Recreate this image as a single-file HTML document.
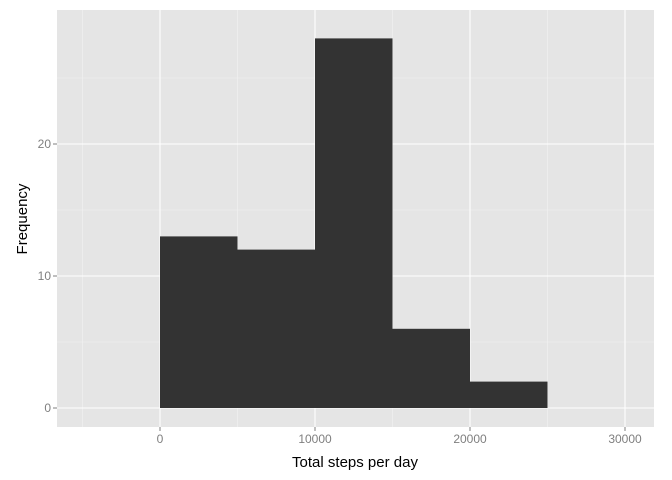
<!DOCTYPE html>
<html><head><meta charset="utf-8"><style>
html,body{margin:0;padding:0;background:#fff;}
svg{display:block;font-family:"Liberation Sans",sans-serif;}
</style></head><body>
<svg id="chart" width="672" height="480">
<rect x="0" y="0" width="672" height="480" fill="#fff"/>
<rect x="57" y="10" width="597" height="417" fill="#e5e5e5"/>
<g id="grid"></g><g id="bars"></g><g id="axes"></g>
<text x="355" y="467" text-anchor="middle" font-size="15" fill="#000">Total steps per day</text>
<text transform="translate(27,219) rotate(-90)" text-anchor="middle" font-size="15" fill="#000">Frequency</text>
</svg>
<script>
const binStarts=[0,5000,10000,15000,20000];
const binWidth=5000;
const counts=[13,12,28,6,2];
const xTicks=[0,10000,20000,30000];
const xMinor=[-5000,5000,15000,25000];
const yTicks=[0,10,20];
const yMinor=[5,15,25];
const NS="http://www.w3.org/2000/svg";
const x=v=>160+v*155/10000;
const y=v=>408-v*13.2;
const P={l:57,r:654,t:10,b:427};
function mk(tag,attrs,parent){const e=document.createElementNS(NS,tag);for(const k in attrs)e.setAttribute(k,attrs[k]);document.getElementById(parent).appendChild(e);return e;}
xMinor.forEach(v=>{const e=mk('line',{x1:x(v),x2:x(v),y1:P.t,y2:P.b,stroke:'#f2f2f2','stroke-width':0.6},'grid');

});
yMinor.forEach(v=>{const e=mk('line',{x1:P.l,x2:P.r,y1:y(v),y2:y(v),stroke:'#f2f2f2','stroke-width':0.6},'grid');

});
xTicks.forEach(v=>{const e=mk('line',{x1:x(v),x2:x(v),y1:P.t,y2:P.b,stroke:'#fff','stroke-width':1.1},'grid');

});
yTicks.forEach(v=>{const e=mk('line',{x1:P.l,x2:P.r,y1:y(v),y2:y(v),stroke:'#fff','stroke-width':1.1},'grid');

});
counts.forEach((c,i)=>{const x0=x(binStarts[i]),x1=x(binStarts[i]+binWidth);
const e=mk('rect',{x:x0,y:y(c),width:x1-x0,height:y(0)-y(c),fill:'#333333'},'bars');

});
xTicks.forEach(v=>{const t=mk('line',{x1:x(v),x2:x(v),y1:P.b,y2:P.b+4,stroke:'#7f7f7f'},'axes');


const l=mk('text',{x:x(v),y:P.b+16,'text-anchor':'middle','font-size':12,fill:'#7f7f7f'},'axes');l.textContent=v;

});
yTicks.forEach(v=>{const t=mk('line',{x1:P.l-4,x2:P.l,y1:y(v),y2:y(v),stroke:'#7f7f7f'},'axes');


const l=mk('text',{x:P.l-6,y:y(v)+4,'text-anchor':'end','font-size':12,fill:'#7f7f7f'},'axes');l.textContent=v;

});
</script>
</body></html>
